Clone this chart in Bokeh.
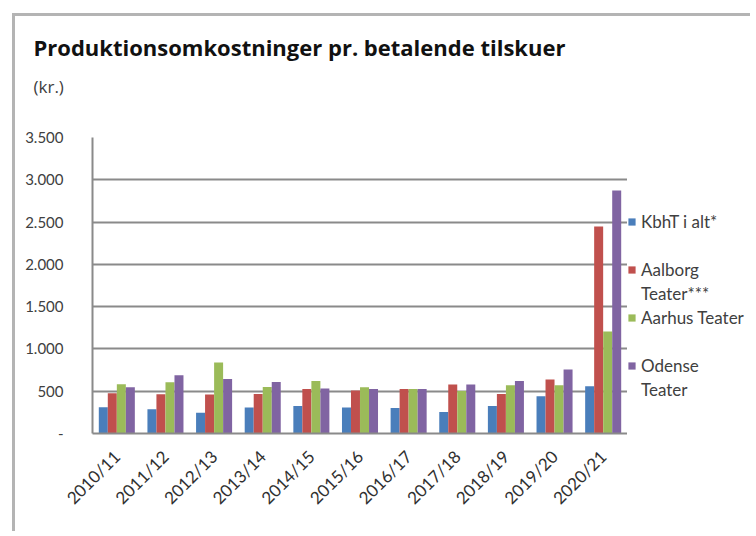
import math
from bokeh.plotting import figure
from bokeh.layouts import row
from bokeh.models import (FactorRange, Range1d, FixedTicker, Legend, LegendItem, Title)
from bokeh.transform import dodge
from bokeh.embed import file_html
from bokeh.resources import INLINE

# ---- data ----
seasons = ["2010/11", "2011/12", "2012/13", "2013/14", "2014/15", "2015/16",
           "2016/17", "2017/18", "2018/19", "2019/20", "2020/21"]
kbht = [310, 286, 246, 306, 325, 306, 301, 253, 325, 440, 559]
aalborg = [476, 464, 460, 468, 527, 508, 527, 580, 468, 639, 2448]
aarhus = [583, 607, 841, 551, 622, 547, 527, 503, 571, 571, 1206]
odense = [548, 690, 643, 610, 532, 527, 527, 580, 622, 758, 2872]
series_names = ["KbhT i alt*", "Aalborg", "Aarhus Teater", "Odense"]
series_extra = [None, "Teater***", None, "Teater"]
y_ticks = [0, 500, 1000, 1500, 2000, 2500, 3000, 3500]
y_tick_labels = ["-", "500", "1.000", "1.500", "2.000", "2.500", "3.000", "3.500"]
title_text = "Produktionsomkostninger pr. betalende tilskuer"
unit_text = "(kr.)"

colors = ["#4a7ebb", "#c0504d", "#9bbb59", "#8064a2"]
offsets = [-0.278, -0.093, 0.093, 0.278]
keys = ["a", "b", "c", "d"]
FONT = "Lato"
GRID = "#8a8a8a"
TXT = "#404040"

data = dict(x=seasons, a=kbht, b=aalborg, c=aarhus, d=odense)

p = figure(x_range=FactorRange(*seasons, range_padding=0),
           y_range=Range1d(0, 3500),
           width=612, height=515, output_backend="svg", toolbar_location=None,
           title=title_text, min_border_left=77, min_border_right=0,
           min_border_top=121, min_border_bottom=98)
p.outline_line_color = None
p.background_fill_color = "white"
p.border_fill_color = "white"

# titles (stacked upward from the plot area: spacer, unit, main title)
p.title.text_font = "Open Sans"
p.title.text_font_size = "22px"
p.title.text_font_style = "bold"
p.title.text_color = "#111111"
p.title.align = "left"
p.title.offset = -59
p.title.standoff = 22
spacer = Title(text=" ", text_font_size="10px", standoff=27)
p.add_layout(spacer, "above")
unit_title = Title(text=unit_text, text_font="Open Sans", text_font_size="17px",
                   text_font_style="normal", text_color=TXT, align="left",
                   offset=-59, standoff=0)
p.add_layout(unit_title, "above")

for key, off, col in zip(keys, offsets, colors):
    p.vbar(x=dodge("x", off, range=p.x_range), top=key, width=0.185,
           source=data, fill_color=col, line_color=None)

# axes
p.yaxis.ticker = FixedTicker(ticks=y_ticks)
p.yaxis.major_label_overrides = {t: l for t, l in zip(y_ticks, y_tick_labels)}
p.yaxis.major_tick_out = 0
p.yaxis.major_tick_in = 0
p.yaxis.minor_tick_out = 0
p.yaxis.minor_tick_in = 0
p.yaxis.major_label_standoff = 29
p.yaxis.major_label_text_font = FONT
p.yaxis.major_label_text_font_size = "15px"
p.yaxis.major_label_text_color = TXT
p.yaxis.axis_line_color = GRID
p.yaxis.axis_line_width = 2

p.xaxis.major_tick_out = 0
p.xaxis.major_tick_in = 0
p.xaxis.major_label_orientation = math.pi / 4
p.xaxis.major_label_standoff = 20
p.xaxis.major_label_text_font = FONT
p.xaxis.major_label_text_font_size = "17px"
p.xaxis.major_label_text_color = "#303030"
p.xaxis.axis_line_color = GRID
p.xaxis.axis_line_width = 2
p.xgrid.grid_line_color = None
p.ygrid.grid_line_color = GRID
p.ygrid.grid_line_width = 2

# legend panel (separate canvas to the right of the plot area)
lp = figure(width=123, height=515, x_range=FactorRange(*seasons),
            y_range=Range1d(0, 3500), output_backend="svg", toolbar_location=None,
            x_axis_location=None, y_axis_location=None, min_border=0)
lp.outline_line_color = None
lp.grid.grid_line_color = None
lp.background_fill_color = "white"
lp.border_fill_color = "white"
swatches = [lp.vbar(x="x", top=key, width=0.2, source=data, fill_color=c,
                    line_color=None, visible=False)
            for key, c in zip(keys, colors)]
blank = lp.vbar(x=[], top=[], width=0.1, fill_alpha=0, line_alpha=0)

items = []
for name, extra, r in zip(series_names, series_extra, swatches):
    items.append(LegendItem(label=name, renderers=[r]))
    items.append(LegendItem(label=extra if extra else " ", renderers=[blank]))
legend = Legend(items=items, location=(0, 32), padding=0, margin=0,
                border_line_color=None, background_fill_alpha=0,
                inactive_fill_alpha=0,
                glyph_width=9, glyph_height=9, label_standoff=5,
                label_height=24, spacing=0,
                label_text_font=FONT, label_text_font_size="17px",
                label_text_color=TXT)
lp.add_layout(legend)

layout = row(p, lp, spacing=0,
             styles={"margin-left": "12px", "margin-top": "13px",
                     "border-left": "3px solid #b4b4b4",
                     "border-top": "3px solid #b4b4b4"})

open("out.html", "w").write(file_html(layout, INLINE))
